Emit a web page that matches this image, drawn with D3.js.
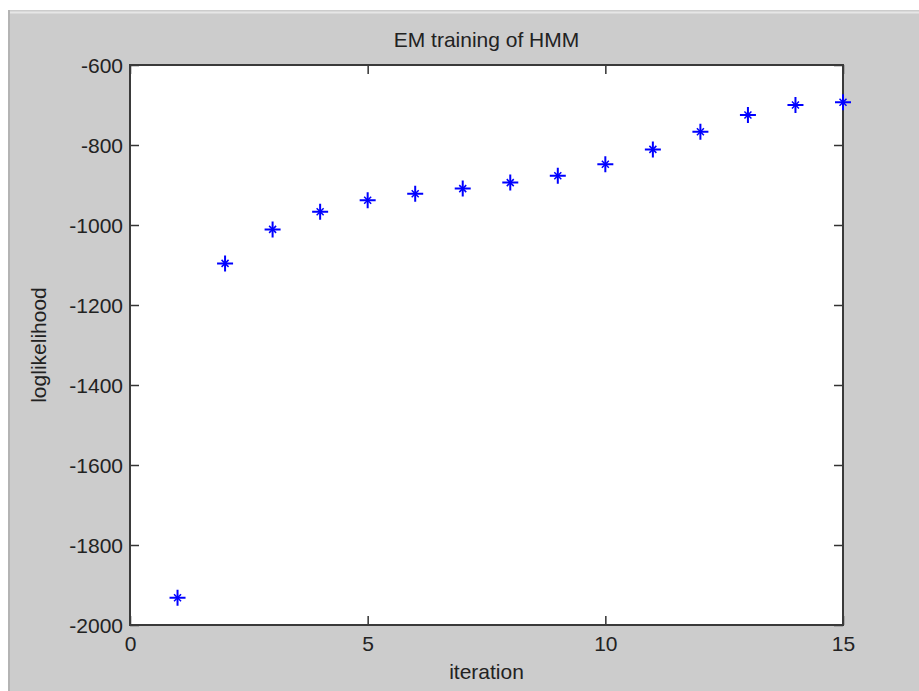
<!DOCTYPE html>
<html>
<head>
<meta charset="utf-8">
<script src="https://cdn.jsdelivr.net/npm/d3@7"></script>
<style>
  body { margin: 0; background: #fff; }
  svg { display: block; font-family: "Liberation Sans", Arial, sans-serif; }
</style>
</head>
<body>
<svg width="919" height="691"></svg>
<script>
// log likelihood per EM iteration
let iterations = [1, 2, 3, 4, 5, 6, 7, 8, 9, 10, 11, 12, 13, 14, 15];
let loglik = [-1932, -1096, -1011, -967, -938, -922, -909, -894, -877, -848, -811, -767, -725, -700, -693];
let xTicks = [0, 5, 10, 15];
let yTicks = [-600, -800, -1000, -1200, -1400, -1600, -1800, -2000];

let svg = d3.select("svg");
let width = +svg.attr("width");
let height = +svg.attr("height");

// figure window background
svg.append("rect").attr("x", 0).attr("y", 0).attr("width", width).attr("height", height).attr("fill", "#fff");
svg.append("rect").attr("x", 8).attr("y", 10).attr("width", width - 8).attr("height", height - 10).attr("fill", "#cccccc");
svg.append("line").attr("x1", 8).attr("x2", width).attr("y1", 12.5).attr("y2", 12.5).attr("stroke", "#e6e6e6").attr("stroke-width", 2);
svg.append("line").attr("x1", 9).attr("x2", 9).attr("y1", 10).attr("y2", height).attr("stroke", "#b4b4b4").attr("stroke-width", 2);

let margin = {left: 130, right: 919 - 843, top: 65, bottom: 691 - 625};
let pw = width - margin.left - margin.right;
let ph = height - margin.top - margin.bottom;

let x = d3.scaleLinear().domain([0, 15]).range([margin.left, margin.left + pw]);
let y = d3.scaleLinear().domain([-2000, -600]).range([margin.top + ph, margin.top]);

svg.append("rect")
    .attr("x", margin.left).attr("y", margin.top)
    .attr("width", pw).attr("height", ph)
    .attr("fill", "#fff");

let tickLen = 9;
let fmt = function(d) { return String(d); };

let gx = svg.append("g")
    .attr("transform", "translate(0," + (margin.top + ph) + ")")
    .call(d3.axisBottom(x).tickValues(xTicks).tickFormat(fmt).tickSizeInner(-tickLen).tickSizeOuter(0).tickPadding(11));
let gxTop = svg.append("g")
    .attr("transform", "translate(0," + margin.top + ")")
    .call(d3.axisTop(x).tickValues(xTicks).tickSizeInner(-tickLen).tickSizeOuter(0).tickFormat(""));
let gy = svg.append("g")
    .attr("transform", "translate(" + margin.left + ",0)")
    .call(d3.axisLeft(y).tickValues(yTicks).tickFormat(fmt).tickSizeInner(-tickLen).tickSizeOuter(0).tickPadding(7));
let gyRight = svg.append("g")
    .attr("transform", "translate(" + (margin.left + pw) + ",0)")
    .call(d3.axisRight(y).tickValues(yTicks).tickSizeInner(-tickLen).tickSizeOuter(0).tickFormat(""));

[gx, gxTop, gy, gyRight].forEach(function(g) {
    g.select(".domain").remove();
    g.selectAll(".tick line").attr("stroke", "#333").attr("stroke-width", 1.5);
    g.selectAll("text").attr("fill", "#222").style("font-size", "21px").attr("font-family", null);
});
gy.selectAll(".tick text").attr("dy", "0.36em");

// plot box
svg.append("rect")
    .attr("x", margin.left).attr("y", margin.top)
    .attr("width", pw).attr("height", ph)
    .attr("fill", "none")
    .attr("stroke", "#3a3a3a")
    .attr("stroke-width", 2);

// star markers
let star = svg.append("g").selectAll("g")
    .data(iterations)
    .enter().append("g")
    .attr("transform", function(d, i) { return "translate(" + x(d) + "," + y(loglik[i]) + ")"; })
    .attr("stroke", "#0000ff")
    .attr("stroke-width", 2);
star.append("path").attr("d", "M-8,0H8M0,-8V8");
star.append("path").attr("d", "M-3.5,-3.5L3.5,3.5M-3.5,3.5L3.5,-3.5").attr("stroke-width", 1.5);

// texts
svg.append("text")
    .attr("x", margin.left + pw / 2).attr("y", 47)
    .attr("text-anchor", "middle")
    .style("font-size", "21px").attr("fill", "#222")
    .text("EM training of HMM");

svg.append("text")
    .attr("x", margin.left + pw / 2).attr("y", 679)
    .attr("text-anchor", "middle")
    .style("font-size", "21px").attr("fill", "#222")
    .text("iteration");

svg.append("text")
    .attr("transform", "translate(46," + (margin.top + ph / 2) + ") rotate(-90)")
    .attr("text-anchor", "middle")
    .style("font-size", "21px").attr("fill", "#222")
    .text("loglikelihood");
</script>
</body>
</html>
